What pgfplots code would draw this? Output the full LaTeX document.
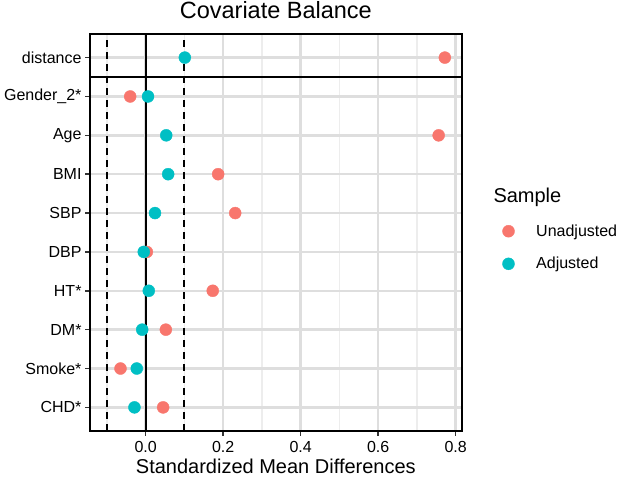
\documentclass[border=0pt]{standalone}
\usepackage{fontspec}
\setmainfont{Liberation Sans}
\usepackage{pgfplots}
\pgfplotsset{compat=1.18}
\definecolor{unadj}{HTML}{F8766D}
\definecolor{adj}{HTML}{00BFC4}
\definecolor{gridmaj}{HTML}{DEDEDE}
\definecolor{gridmin}{HTML}{EDEDED}
\begin{document}
\begin{tikzpicture}[x=1bp,y=1bp]
\useasboundingbox (0,0) rectangle (619,477);
\begin{axis}[
    at={(90bp,46.3bp)}, anchor=south west,
    scale only axis, width=371.7bp, height=396.4bp,
    xmin=-0.1437, xmax=0.8155, ymin=0.4, ymax=10.6,
    xtick={0,0.2,0.4,0.6,0.8},
    xticklabels={0.0,0.2,0.4,0.6,0.8},
    minor xtick={-0.1,0.1,0.3,0.5,0.7},
    ytick={1,2,3,4,5,6,7,8,9,10},
    yticklabels={CHD*,Smoke*,DM*,HT*,DBP,SBP,BMI,Age,Gender\_2*,distance},
    tick pos=left, tick align=outside,
    major tick length=5bp, minor tick length=0pt,
    tick style={line width=1.5bp, color=black!80},
    grid=both,
    major grid style={line width=2.5bp, color=gridmaj},
    minor grid style={line width=1.2bp, color=gridmin},
    axis line style={line width=2bp, black},
    ticklabel style={font=\fontsize{16bp}{19bp}\selectfont},
    xticklabel style={yshift=-2.5bp},
    title={Covariate Balance},
    title style={font=\fontsize{23.5bp}{28bp}\selectfont, at={(axis description cs:0.5,1)}, anchor=base, yshift=9.5bp},
    xlabel={Standardized Mean Differences},
    xlabel style={font=\fontsize{20bp}{24bp}\selectfont, at={(axis description cs:0.5,0)}, anchor=base, yshift=-42.5bp},
    legend style={at={(axis description cs:1,1)}, anchor=north west, xshift=40.6bp, yshift=-190.2bp,
        draw=none, fill=none, inner sep=0pt, row sep=19.5bp, column sep=21.7bp,
        nodes={inner sep=0pt}, font=\fontsize{16bp}{19bp}\selectfont},
    legend cell align=left,
    legend image code/.code={\draw[#1] plot coordinates {(0bp,0bp)};},
]
% reference lines
\addplot[forget plot, black, line width=2bp, dash pattern=on 7bp off 5bp] coordinates {(-0.1,0.4) (-0.1,10.6)};
\addplot[forget plot, black, line width=2bp, dash pattern=on 7bp off 5bp] coordinates {(0.1,0.4) (0.1,10.6)};
\addplot[forget plot, black, line width=2bp] coordinates {(0,0.4) (0,10.6)};
\addplot[forget plot, black, line width=2bp] coordinates {(-0.1437,9.5) (0.8155,9.5)};
% unadjusted
\addplot[only marks, mark=*, color=unadj, mark size=6bp] coordinates {
(0.772,10) (-0.040,9) (0.756,8) (0.187,7) (0.231,6) (0.003,5) (0.173,4) (0.052,3) (-0.065,2) (0.045,1)
};
% adjusted
\addplot[only marks, mark=*, color=adj, mark size=6bp] coordinates {
(0.101,10) (0.006,9) (0.053,8) (0.058,7) (0.024,6) (-0.005,5) (0.008,4) (-0.009,3) (-0.023,2) (-0.029,1)
};
\legend{Unadjusted, Adjusted}
\end{axis}
\node[anchor=base west, font=\fontsize{20bp}{24bp}\selectfont, inner sep=0pt] at (493.3,274.7) {Sample};
\end{tikzpicture}
\end{document}
